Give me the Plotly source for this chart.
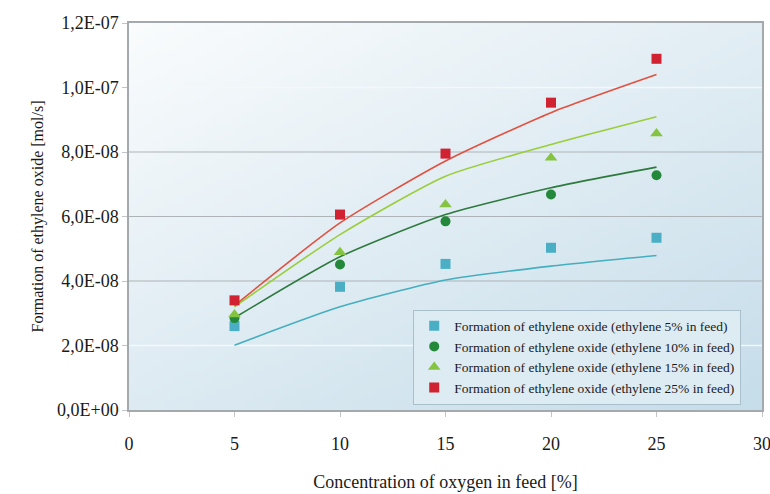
import base64, struct, zlib
import numpy as np
import plotly.graph_objects as go

# ---------------- data ----------------
oxygen = [5, 10, 15, 20, 25]
series_names = [
    "Formation of ethylene oxide (ethylene 5% in feed)",
    "Formation of ethylene oxide (ethylene 10% in feed)",
    "Formation of ethylene oxide (ethylene 15% in feed)",
    "Formation of ethylene oxide (ethylene 25% in feed)",
]
meas_5 = [2.60e-08, 3.82e-08, 4.53e-08, 5.03e-08, 5.34e-08]
meas_10 = [2.85e-08, 4.51e-08, 5.85e-08, 6.68e-08, 7.28e-08]
meas_15 = [2.96e-08, 4.89e-08, 6.37e-08, 7.82e-08, 8.57e-08]
meas_25 = [3.40e-08, 6.06e-08, 7.95e-08, 9.53e-08, 1.089e-07]
model_5 = [2.01e-08, 3.20e-08, 4.03e-08, 4.46e-08, 4.79e-08]
model_10 = [2.86e-08, 4.75e-08, 6.06e-08, 6.89e-08, 7.53e-08]
model_15 = [3.20e-08, 5.44e-08, 7.25e-08, 8.23e-08, 9.09e-08]
model_25 = [3.24e-08, 5.80e-08, 7.72e-08, 9.22e-08, 1.04e-07]

y_tickvals = [0, 2e-08, 4e-08, 6e-08, 8e-08, 1e-07, 1.2e-07]
y_ticktext = ["0,0E+00", "2,0E-08", "4,0E-08", "6,0E-08", "8,0E-08", "1,0E-07", "1,2E-07"]
x_tickvals = [0, 5, 10, 15, 20, 25, 30]
grid_grey = [4e-08, 6e-08, 8e-08]
grid_white = [2e-08, 1e-07]

# ---------------- styles ----------------
marker_colors = ["#4aaec4", "#23883a", "#84c441", "#d12232"]
line_colors = ["#45aebf", "#2e7a3e", "#9acd3a", "#e2503f"]
symbols = ["square", "circle", "triangle-up", "square"]
FONT = "Liberation Serif, Times New Roman, serif"

# gradient background image (PNG built by hand)
W, H = 64, 64
u = np.linspace(0, 1, W)[None, :]
v = np.linspace(0, 1, H)[:, None]
t = np.clip(0.45 * u + 0.55 * v, 0, 1)
c0 = np.array([250, 252, 253], dtype=float)
c1 = np.array([198, 221, 234], dtype=float)
img = (c0[None, None, :] * (1 - t[..., None]) + c1[None, None, :] * t[..., None]).astype(np.uint8)
raw = b"".join(b"\x00" + img[r].tobytes() for r in range(H))
def chunk(tag, data):
    return struct.pack(">I", len(data)) + tag + data + struct.pack(">I", zlib.crc32(tag + data) & 0xffffffff)
png = b"\x89PNG\r\n\x1a\n" + chunk(b"IHDR", struct.pack(">IIBBBBB", W, H, 8, 2, 0, 0, 0)) \
      + chunk(b"IDAT", zlib.compress(raw, 9)) + chunk(b"IEND", b"")
bg_uri = "data:image/png;base64," + base64.b64encode(png).decode()

fig = go.Figure()
meas = [meas_5, meas_10, meas_15, meas_25]
model = [model_5, model_10, model_15, model_25]

for i in range(4):
    fig.add_trace(go.Scatter(
        x=oxygen, y=model[i], mode="lines", line=dict(color=line_colors[i], width=1.6, shape="spline", smoothing=0.6),
        showlegend=False, hoverinfo="skip"))
for i in range(4):
    fig.add_trace(go.Scatter(
        x=oxygen, y=meas[i], mode="markers", name=series_names[i],
        marker=dict(symbol=symbols[i], color=marker_colors[i], size=10 if symbols[i] != "triangle-up" else 11,
                    line=dict(width=0))))

shapes = []
for g in grid_grey:
    shapes.append(dict(type="line", xref="paper", yref="y", x0=0, x1=1, y0=g, y1=g,
                       line=dict(color="#aeb3b7", width=1.2), layer="below"))
for g in grid_white:
    shapes.append(dict(type="line", xref="paper", yref="y", x0=0, x1=1, y0=g, y1=g,
                       line=dict(color="#f4f8fb", width=1.5), layer="below"))

fig.update_layout(
    width=770, height=494,
    margin=dict(l=129, r=8, t=23, b=84),
    paper_bgcolor="white",
    plot_bgcolor="rgba(0,0,0,0)",
    font=dict(family=FONT, color="#1a1a1a", size=18),
    images=[dict(source=bg_uri, xref="paper", yref="paper", x=0, y=1, sizex=1, sizey=1,
                 sizing="stretch", layer="below", xanchor="left", yanchor="top")],
    shapes=shapes,
    xaxis=dict(range=[0, 30], tickvals=x_tickvals, showgrid=False, zeroline=False, automargin=False,
               ticklabeloverflow="allow",
               showline=True, linecolor="#a4a9ad", linewidth=1.5, mirror=True,
               ticks="outside", ticklen=5, tickcolor="#c0c4c8", ticklabelstandoff=12,
               tickfont=dict(size=18, family=FONT),
               title=dict(text="Concentration of oxygen in feed [%]", font=dict(size=18, family=FONT), standoff=22)),
    yaxis=dict(range=[0, 1.2e-07], tickvals=y_tickvals, ticktext=y_ticktext, showgrid=False, zeroline=False,
               automargin=False, ticklabeloverflow="allow",
               showline=True, linecolor="#a4a9ad", linewidth=1.5, mirror=True,
               ticks="outside", ticklen=5, tickcolor="#c0c4c8",
               tickfont=dict(size=18, family=FONT),
               title=dict(text="Formation of ethylene oxide [mol/s]", font=dict(size=16, family=FONT), standoff=9)),
    legend=dict(x=0.449, y=0.014, xanchor="left", yanchor="bottom",
                bgcolor="#ddebf3", bordercolor="#a9c0cc", borderwidth=1,
                font=dict(size=13.5, family=FONT, color="#1a1a1a"),
                tracegroupgap=0, itemwidth=30),
)

fig.write_html("out.html")
